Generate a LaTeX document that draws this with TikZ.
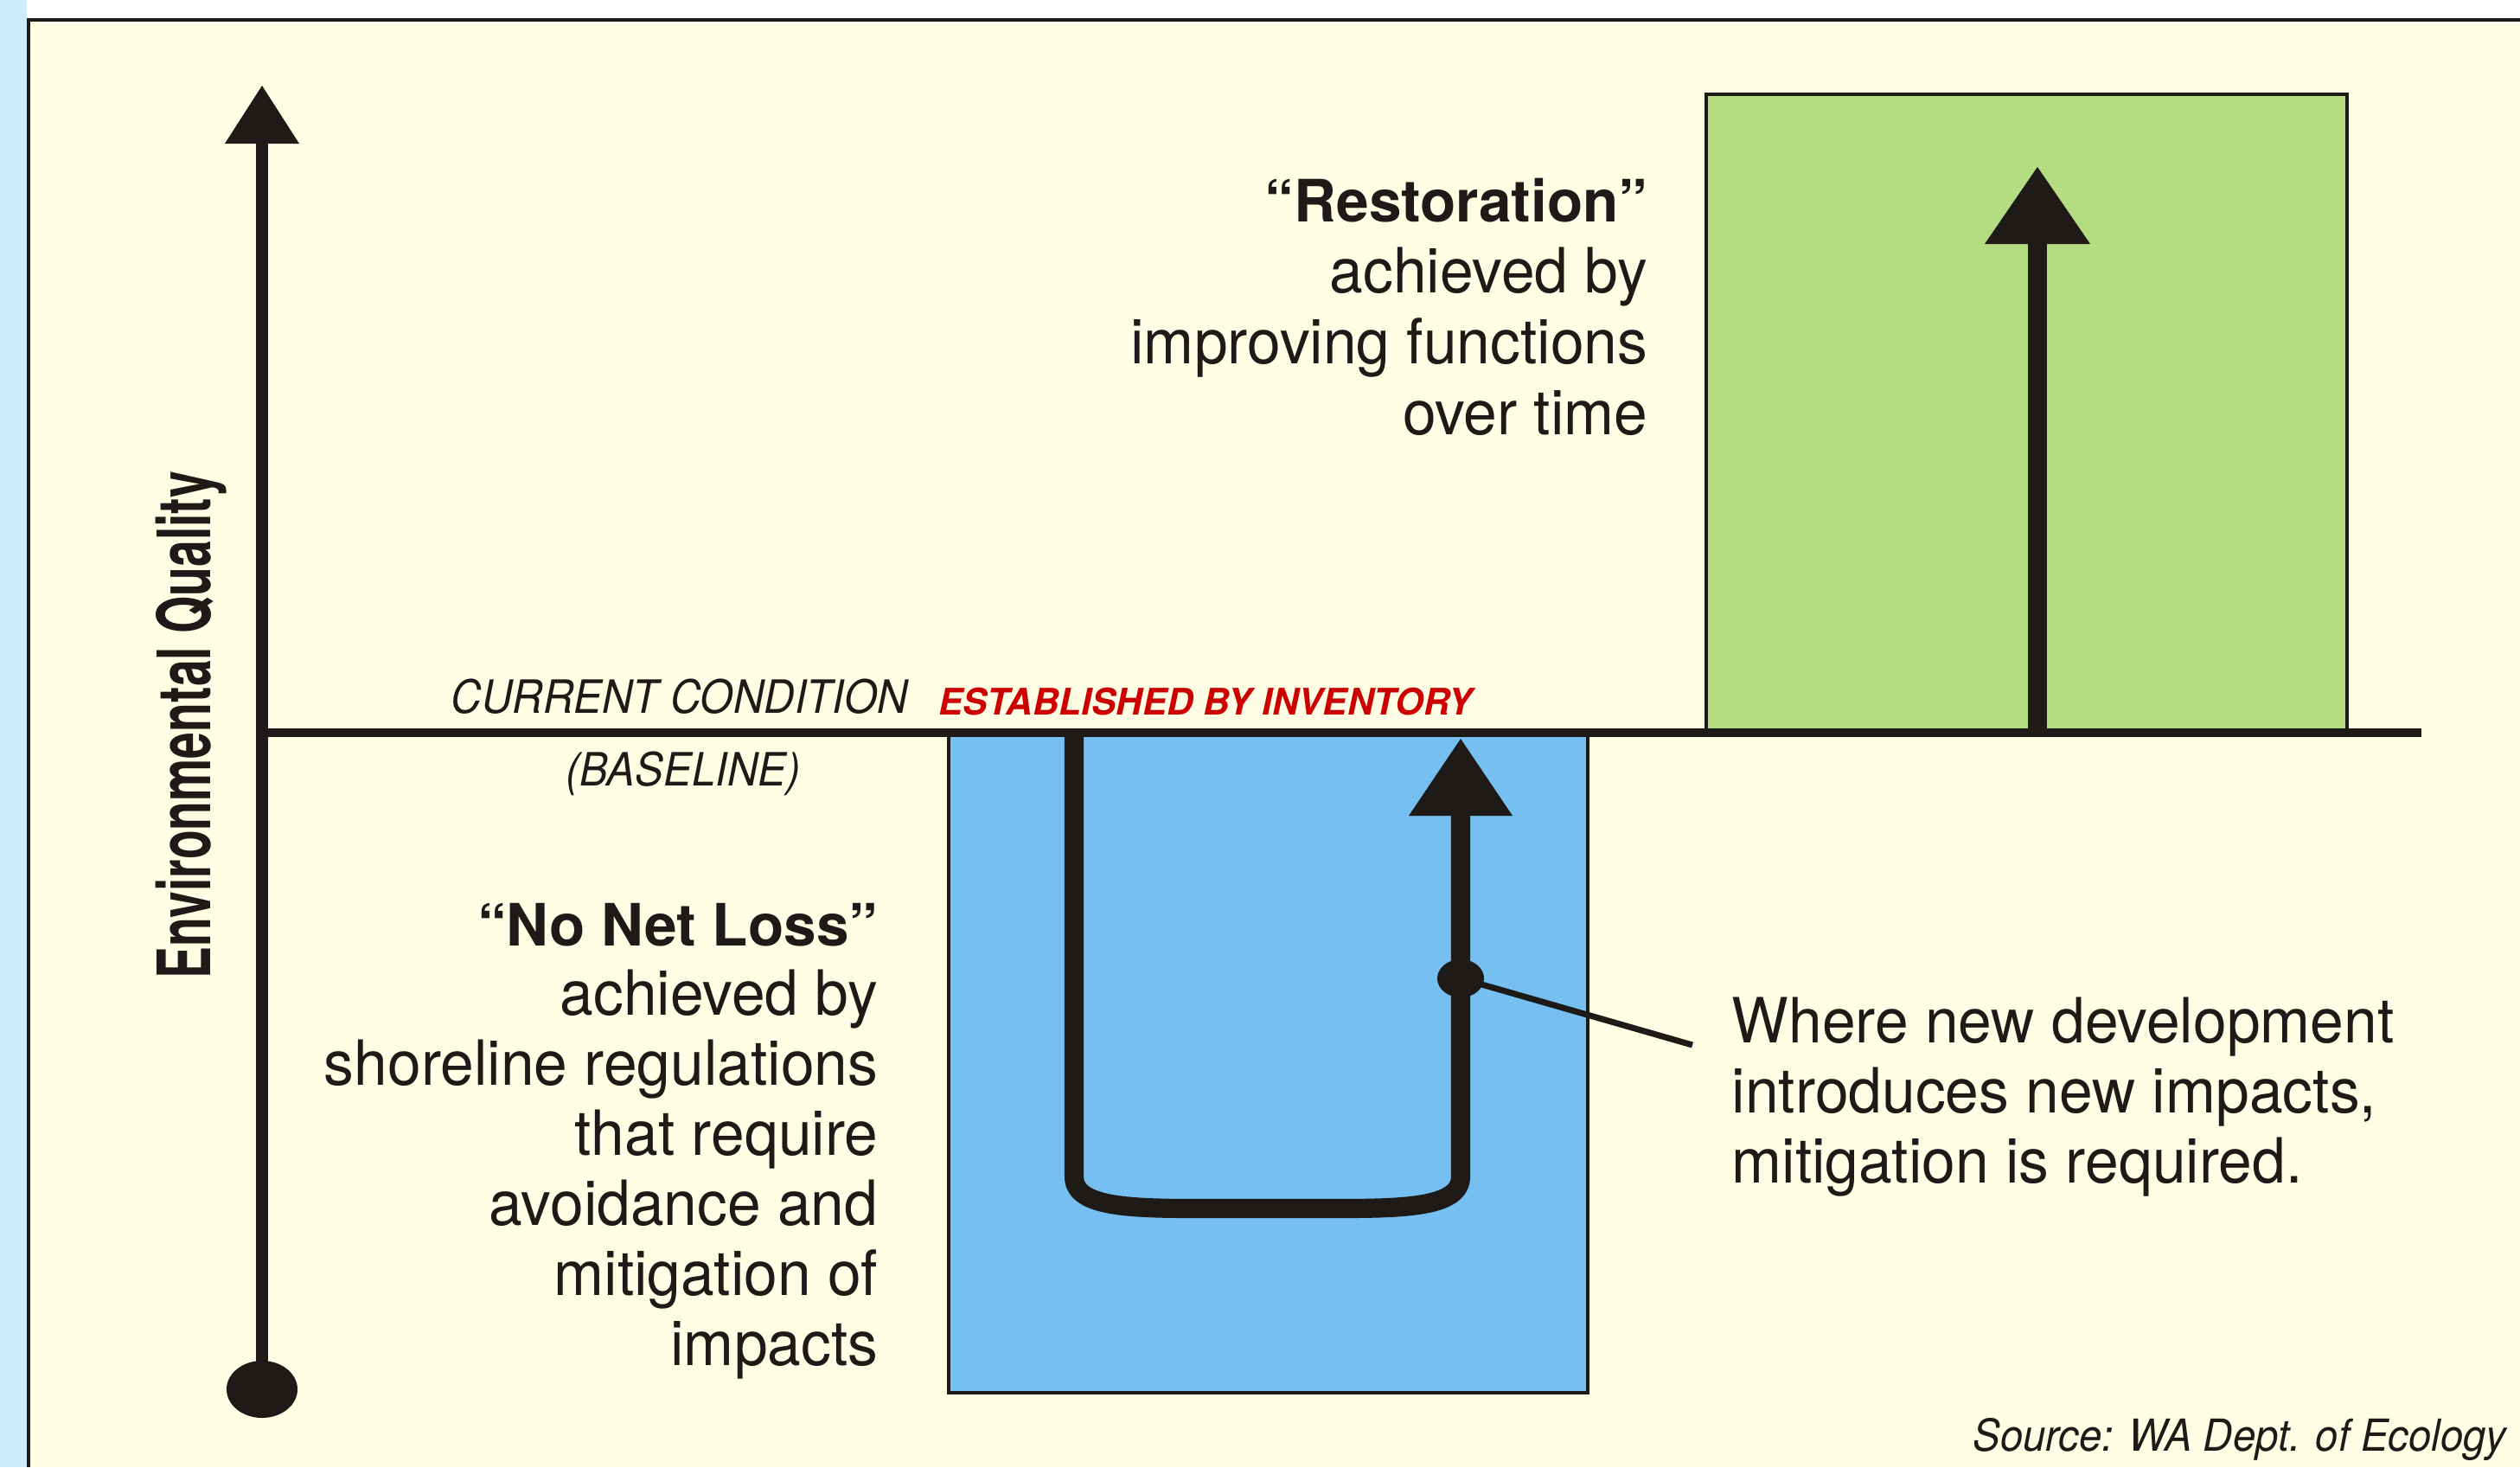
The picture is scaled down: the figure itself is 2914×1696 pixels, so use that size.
\documentclass[tikz,border=0pt]{standalone}
\usepackage{fontspec}
\setmainfont{TeX Gyre Heros}
\newfontfamily\condfont{TeX Gyre Heros}[FakeStretch=0.65]
\newfontfamily\narrowfont{TeX Gyre Heros}[FakeStretch=0.926]
\newfontfamily\bodyfont{TeX Gyre Heros}[FakeStretch=0.965]
\definecolor{cream}{RGB}{255,253,228}
\definecolor{strip}{RGB}{208,234,254}
\definecolor{boxblue}{RGB}{117,192,240}
\definecolor{boxgreen}{RGB}{180,220,128}
\definecolor{ink}{RGB}{30,26,23}
\definecolor{inkred}{RGB}{204,0,0}
\tikzset{
  body/.style={inner sep=0pt, text=ink, font=\bodyfont\fontsize{20.5pt}{23pt}\selectfont},
  headline/.style={inner sep=0pt, text=ink, font=\fontsize{19.2pt}{23pt}\selectfont\bfseries},
  axislabel/.style={inner sep=0pt, text=ink, font=\condfont\fontsize{24.2pt}{28pt}\selectfont\bfseries},
  condlabel/.style={inner sep=0pt, text=ink, font=\narrowfont\fontsize{15.08pt}{18pt}\selectfont\itshape},
  redlabel/.style={inner sep=0pt, text=inkred, font=\fontsize{12.04pt}{14pt}\selectfont\bfseries\itshape},
  sourcelabel/.style={inner sep=0pt, text=ink, font=\narrowfont\fontsize{14.5pt}{17pt}\selectfont\itshape},
  framebox/.style={draw=ink, line width=1.4pt},
  thickline/.style={draw=ink, line width=3.1pt},
  head/.style={fill=ink}
}
\begin{document}
\begin{tikzpicture}[x=0.01cm, y=-0.01cm]
\useasboundingbox (0,0) rectangle (2914,1696);
% background and frame
\fill[white] (0,0) rectangle (2914,1696);
\fill[cream] (33,23) rectangle (2914,1696);
\fill[strip] (0,0) rectangle (30.5,1696);
\draw[framebox] (2914,23) -- (33,23) -- (33,1696);

% boxes
\draw[framebox, fill=boxgreen] (1973,847) -- (1973,109) -- (2714,109) -- (2714,847);
\draw[framebox, fill=boxblue] (1097,847) -- (1097,1610) -- (1836,1610) -- (1836,847);

% baseline
\coordinate (baseL) at (303,847);
\coordinate (baseR) at (2800,847);
\draw[thickline] (baseL) -- (baseR);

% vertical axis arrow
\coordinate (axisTip) at (303,99);
\coordinate (axisTop) at (303,166);
\coordinate (axisBot) at (303,1606);
\draw[ink, line width=3.7pt] (axisBot) -- (axisTop);
\fill[head] (axisTip) -- (260,166) -- (346,166) -- cycle;
\fill[ink] (axisBot) ellipse [x radius=0.41cm, y radius=0.33cm];

% U-shaped path in the blue box
\coordinate (uStart) at (1242,847);
\coordinate (uEnd) at (1689,943);
\coordinate (uTip) at (1689,854);
\draw[ink, line width=6.3pt]
  (uStart) -- (1242,1360)
  .. controls (1242,1394) and (1300,1397) .. (1382,1397)
  -- (1549,1397)
  .. controls (1631,1397) and (1689,1394) .. (1689,1360)
  -- (uEnd);
\fill[head] (uTip) -- (1629,943) -- (1749,943) -- cycle;

% dot and leader
\coordinate (dot) at (1689,1131);
\coordinate (leaderEnd) at (1957,1208);
\draw[ink, line width=2pt] (dot) -- (leaderEnd);
\fill[ink] (dot) ellipse [x radius=0.27cm, y radius=0.22cm];

% green arrow
\coordinate (gBase) at (2356,847);
\coordinate (gTop) at (2356,282);
\coordinate (gTip) at (2356,193);
\draw[ink, line width=6.5pt] (gBase) -- (gTop);
\fill[head] (gTip) -- (2295,282) -- (2417,282) -- cycle;

% axis label
\node[axislabel, rotate=90, anchor=base] (eq) at (243,838) {Environmental Quality};

% baseline labels
\node[condlabel, anchor=base west] (cc) at (521,824) {CURRENT CONDITION};
\node[condlabel, anchor=base] (bl) at (790,908) {(BASELINE)};
\node[redlabel, anchor=base west] (est) at (1085,826) {ESTABLISHED BY INVENTORY};

% restoration text
\node[headline, anchor=base east] (r1) at (1906,256) {“Restoration”};
\node[body, anchor=base east] (r2) at (1906,338) {achieved by};
\node[body, anchor=base east] (r3) at (1906,420) {improving functions};
\node[body, anchor=base east] (r4) at (1906,502) {over time};

% no net loss text
\node[headline, anchor=base east] (n1) at (1016,1093) {“No Net Loss”};
\node[body, anchor=base east] (n2) at (1016,1173) {achieved by};
\node[body, anchor=base east] (n3) at (1016,1254) {shoreline regulations};
\node[body, anchor=base east] (n4) at (1016,1335) {that require};
\node[body, anchor=base east] (n5) at (1016,1416) {avoidance and};
\node[body, anchor=base east] (n6) at (1016,1497) {mitigation of};
\node[body, anchor=base east] (n7) at (1016,1578) {impacts};

% development text
\node[body, anchor=base west] (w1) at (2002,1205) {Where new development};
\node[body, anchor=base west] (w2) at (2002,1286) {introduces new impacts,};
\node[body, anchor=base west] (w3) at (2002,1367) {mitigation is required.};

% source
\node[sourcelabel, anchor=base east] (src) at (2899,1677) {Source: WA Dept. of Ecology};
\end{tikzpicture}
\end{document}
